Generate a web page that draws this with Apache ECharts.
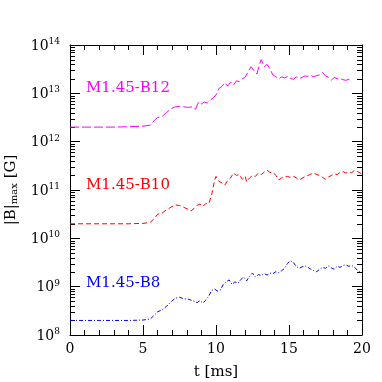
<!DOCTYPE html>
<html>
<head>
<meta charset="utf-8">
<script src="https://cdn.jsdelivr.net/npm/echarts@6/dist/echarts.min.js"></script>
<style>
html, body { margin: 0; padding: 0; background: #fff; }
#chart { width: 382px; height: 382px; }
</style>
</head>
<body>
<div id="chart"></div>
<script>
// t [ms] and |B|max [G]
const tB12 = [0, 1, 2, 3, 4, 5, 5.5, 5.8, 6.0, 6.3, 6.6, 6.9, 7.2, 7.5, 7.8, 8.1, 8.4, 8.6, 8.8, 9.0, 9.2, 9.4, 9.6, 9.8,
    10.0, 10.2, 10.4, 10.6, 10.8, 11.0, 11.2, 11.4, 11.6, 11.8, 12.0, 12.2, 12.4, 12.6, 12.8, 13.0, 13.1, 13.3,
    13.5, 13.7, 13.9, 14.1, 14.3, 14.5, 14.7, 14.9, 15.1, 15.3, 15.5, 15.7, 15.9, 16.1, 16.3, 16.5, 16.7, 16.9,
    17.1, 17.3, 17.5, 17.7, 17.9, 18.1, 18.3, 18.5, 18.7, 18.9, 19.1, 19.3];
const bB12 = [2.00e12, 2.00e12, 2.00e12, 2.00e12, 2.04e12, 2.09e12, 2.19e12, 2.82e12, 3.16e12, 3.31e12, 3.98e12, 4.79e12,
    5.25e12, 5.37e12, 5.25e12, 5.13e12, 5.25e12, 4.68e12, 6.61e12, 6.03e12, 6.61e12, 6.31e12, 7.24e12, 7.94e12,
    9.33e12, 1.26e13, 1.38e13, 1.66e13, 1.41e13, 1.70e13, 1.48e13, 1.82e13, 1.74e13, 2.00e13, 2.14e13, 2.82e13,
    3.55e13, 2.95e13, 2.51e13, 4.17e13, 5.01e13, 3.55e13, 3.98e13, 3.16e13, 2.40e13, 2.19e13, 2.00e13, 2.19e13,
    2.09e13, 2.24e13, 2.04e13, 1.95e13, 2.19e13, 2.00e13, 2.14e13, 2.29e13, 2.24e13, 2.34e13, 2.19e13, 2.34e13,
    2.40e13, 2.69e13, 2.29e13, 2.14e13, 1.86e13, 2.14e13, 2.00e13, 2.04e13, 1.91e13, 1.86e13, 1.95e13, 1.74e13];

const tB10 = [0, 1, 2, 3, 4, 5, 5.5, 5.8, 6.0, 6.3, 6.6, 6.9, 7.2, 7.5, 7.8, 8.1, 8.3, 8.5, 8.7, 8.9, 9.1, 9.3, 9.5, 9.7,
    9.9, 10.0, 10.2, 10.4, 10.6, 10.8, 11.0, 11.2, 11.4, 11.6, 11.8, 12.0, 12.1, 12.3, 12.5, 12.7, 12.9, 13.1,
    13.3, 13.5, 13.7, 13.9, 14.1, 14.3, 14.5, 14.7, 14.9, 15.1, 15.3, 15.5, 15.7, 15.9, 16.1, 16.3, 16.5, 16.7,
    16.9, 17.1, 17.3, 17.5, 17.7, 17.9, 18.1, 18.3, 18.5, 18.7, 18.9, 19.1, 19.3, 19.5, 19.7, 20.0];
const bB10 = [2.00e10, 2.00e10, 2.00e10, 2.00e10, 2.00e10, 2.04e10, 2.14e10, 2.63e10, 3.16e10, 3.31e10, 3.89e10, 4.37e10,
    4.90e10, 4.79e10, 4.37e10, 3.98e10, 3.72e10, 4.17e10, 4.79e10, 5.13e10, 4.57e10, 5.25e10, 5.13e10, 7.94e10,
    1.58e11, 1.91e11, 1.51e11, 1.41e11, 1.26e11, 1.58e11, 1.78e11, 2.24e11, 2.00e11, 2.09e11, 1.66e11, 1.91e11,
    1.48e11, 1.78e11, 2.00e11, 1.91e11, 2.24e11, 2.09e11, 2.34e11, 2.57e11, 2.29e11, 2.34e11, 2.00e11, 1.62e11,
    1.78e11, 1.86e11, 1.91e11, 1.82e11, 1.91e11, 1.78e11, 1.62e11, 1.74e11, 1.91e11, 2.00e11, 2.14e11, 2.24e11,
    2.09e11, 2.00e11, 1.82e11, 1.66e11, 1.86e11, 2.00e11, 2.14e11, 2.09e11, 2.29e11, 2.40e11, 2.24e11, 2.34e11,
    2.29e11, 2.57e11, 2.40e11, 2.14e11];

const tB8 = [0, 1, 2, 3, 4, 5, 5.5, 5.8, 6.0, 6.3, 6.6, 6.9, 7.2, 7.5, 7.8, 8.1, 8.3, 8.5, 8.7, 8.9, 9.1, 9.3, 9.5, 9.7,
    9.9, 10.1, 10.3, 10.5, 10.7, 10.9, 11.1, 11.3, 11.5, 11.7, 11.9, 12.1, 12.3, 12.5, 12.7, 12.9, 13.1, 13.3,
    13.5, 13.7, 13.9, 14.1, 14.3, 14.5, 14.7, 14.9, 15.1, 15.3, 15.5, 15.7, 15.9, 16.1, 16.3, 16.5, 16.7, 16.9,
    17.1, 17.3, 17.5, 17.7, 17.9, 18.1, 18.3, 18.5, 18.7, 18.9, 19.1, 19.3, 19.5, 19.7, 20.0];
const bB8 = [2.00e8, 2.00e8, 2.00e8, 2.00e8, 2.00e8, 2.04e8, 2.14e8, 2.63e8, 3.02e8, 3.31e8, 3.89e8, 4.79e8,
    5.75e8, 6.03e8, 5.62e8, 5.50e8, 5.25e8, 5.01e8, 4.68e8, 5.13e8, 4.57e8, 5.25e8, 6.31e8, 8.32e8,
    8.91e8, 8.13e8, 8.51e8, 1.12e9, 1.26e9, 1.38e9, 1.12e9, 1.26e9, 1.17e9, 1.41e9, 1.58e9, 1.32e9,
    1.66e9, 1.91e9, 1.58e9, 1.78e9, 1.70e9, 1.86e9, 1.74e9, 1.91e9, 1.86e9, 2.04e9, 1.95e9, 2.14e9,
    2.40e9, 3.02e9, 3.47e9, 3.16e9, 2.63e9, 2.40e9, 2.57e9, 2.69e9, 2.51e9, 2.29e9, 2.14e9, 2.04e9,
    2.29e9, 2.51e9, 2.40e9, 2.69e9, 2.45e9, 2.29e9, 2.63e9, 2.51e9, 2.75e9, 2.82e9, 2.63e9, 2.75e9,
    2.51e9, 2.14e9, 1.95e9];

const seriesNames = ["M1.45-B12", "M1.45-B10", "M1.45-B8"];
const seriesColors = ["#ff00ff", "#ff0000", "#0000ff"];
const yDecades = [8, 9, 10, 11, 12, 13, 14];

// minor tick values 2..9 x 10^n on the log axis
let yMinor = [];
for (let i = 0; i < yDecades.length - 1; i++) {
    for (let k = 2; k <= 9; k++) {
        yMinor.push([0, k * Math.pow(10, yDecades[i])]);
    }
}

const font = "DejaVu Serif";
const zip = (t, b) => t.map((v, i) => [v, b[i]]);

var myChart = echarts.init(document.getElementById("chart"), null, { renderer: "canvas" });

const xAxisBase = {
    type: "value",
    min: 0,
    max: 20,
    interval: 5,
    axisLine: { show: true, onZero: false, lineStyle: { color: "#000", width: 1 } },
    axisTick: { show: true, inside: true, length: 10, lineStyle: { color: "#000" } },
    minorTick: { show: true, splitNumber: 5, length: 5, lineStyle: { color: "#000" } },
    splitLine: { show: false },
    minorSplitLine: { show: false }
};
const yAxisBase = {
    type: "log",
    logBase: 10,
    min: 1e8,
    max: 1e14,
    axisLine: { show: true, onZero: false, lineStyle: { color: "#000", width: 1 } },
    axisTick: { show: true, inside: true, length: 10, lineStyle: { color: "#000" } },
    splitLine: { show: false }
};

let option = {
    backgroundColor: "#fff",
    animation: false,
    grid: { left: 70, right: 20, top: 45, bottom: 47, outerBoundsMode: "none", containLabel: false },
    xAxis: [
        Object.assign({}, xAxisBase, {
            position: "bottom",
            name: "t [ms]",
            nameLocation: "middle",
            nameGap: 30,
            nameTextStyle: { fontFamily: font, fontSize: 15, color: "#000" },
            axisLabel: { show: true, margin: 7, fontFamily: font, fontSize: 14, color: "#000" }
        }),
        Object.assign({}, xAxisBase, { position: "top", axisLabel: { show: false } })
    ],
    yAxis: [
        Object.assign({}, yAxisBase, {
            position: "left",
            name: "{b||B|}{s|max}{b| [G]}",
            nameLocation: "middle",
            nameGap: 50,
            nameTextStyle: {
                rich: {
                    b: { fontFamily: font, fontSize: 15, color: "#000" },
                    s: { fontFamily: font, fontSize: 10, color: "#000", padding: [8, 0, 0, 0] }
                }
            },
            axisLabel: {
                show: true,
                margin: 10,
                formatter: function (v) {
                    return "{b|10}{s|" + Math.round(Math.log10(v)) + "}";
                },
                rich: {
                    b: { fontFamily: font, fontSize: 14, color: "#000", lineHeight: 16, padding: [2, 0, 0, 0] },
                    s: { fontFamily: font, fontSize: 9, color: "#000", lineHeight: 10, verticalAlign: "top" }
                }
            }
        }),
        Object.assign({}, yAxisBase, { position: "right", axisLabel: { show: false } })
    ],
    graphic: [
        { type: "text", x: 86, y: 88, style: { text: seriesNames[0], fill: seriesColors[0], font: "15px '" + font + "'", verticalAlign: "middle" } },
        { type: "text", x: 86, y: 185, style: { text: seriesNames[1], fill: seriesColors[1], font: "15px '" + font + "'", verticalAlign: "middle" } },
        { type: "text", x: 86, y: 283, style: { text: seriesNames[2], fill: seriesColors[2], font: "15px '" + font + "'", verticalAlign: "middle" } }
    ],
    series: [
        {
            name: seriesNames[0],
            type: "line",
            data: zip(tB12, bB12),
            showSymbol: false,
            lineStyle: { color: seriesColors[0], width: 1, type: [9, 3] }
        },
        {
            name: seriesNames[1],
            type: "line",
            data: zip(tB10, bB10),
            showSymbol: false,
            lineStyle: { color: seriesColors[1], width: 1, type: [5, 3] }
        },
        {
            name: seriesNames[2],
            type: "line",
            data: zip(tB8, bB8),
            showSymbol: false,
            lineStyle: { color: seriesColors[2], width: 1, type: [4, 2, 1, 2] }
        },
        {
            // minor ticks of the log axis, left and right sides
            type: "custom",
            silent: true,
            data: yMinor,
            renderItem: function (params, api) {
                let p = api.coord([0, api.value(1)]);
                let cs = params.coordSys;
                let y = Math.round(p[1]) + 0.5;
                return {
                    type: "group",
                    children: [
                        { type: "line", shape: { x1: cs.x, y1: y, x2: cs.x + 5, y2: y }, style: { stroke: "#000", lineWidth: 1 } },
                        { type: "line", shape: { x1: cs.x + cs.width - 5, y1: y, x2: cs.x + cs.width, y2: y }, style: { stroke: "#000", lineWidth: 1 } }
                    ]
                };
            }
        }
    ]
};
myChart.setOption(option, true);
</script>
</body>
</html>
